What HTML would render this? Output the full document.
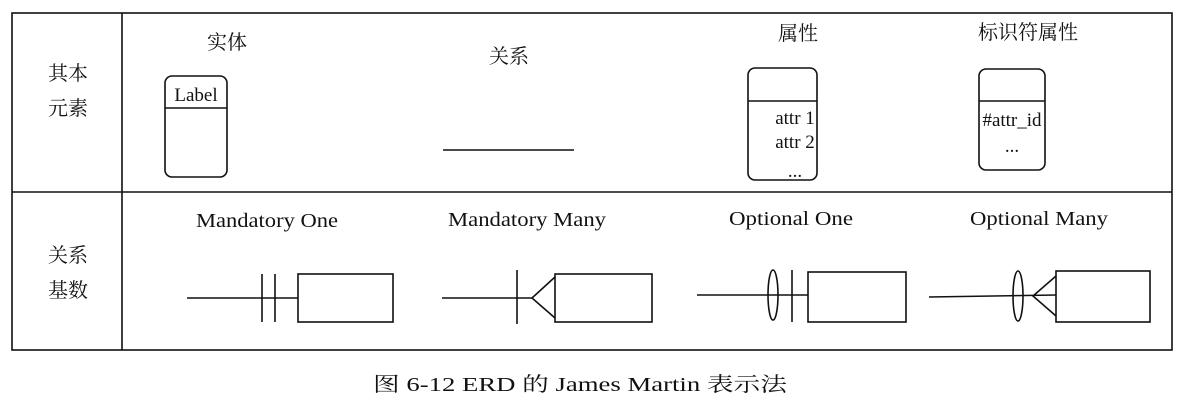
<!DOCTYPE html>
<html><head><meta charset="utf-8"><style>
body{margin:0;background:#fff;}
svg{display:block}
text{font-family:"Liberation Serif","Noto Serif CJK SC",serif;fill:#111;}
</style></head><body>
<svg width="1184" height="418" viewBox="0 0 1184 418" xmlns="http://www.w3.org/2000/svg">
<g stroke="#111" fill="none" stroke-width="1.6">
<rect x="12" y="13" width="1160" height="337"/>
<line x1="122" y1="13" x2="122" y2="350"/>
<line x1="12" y1="192" x2="1172" y2="192"/>
<rect x="165" y="76" width="62" height="101" rx="7"/>
<line x1="165" y1="108" x2="227" y2="108"/>
<line x1="443" y1="150" x2="574" y2="150"/>
<rect x="748" y="68" width="69" height="112" rx="7"/>
<line x1="748" y1="101" x2="817" y2="101"/>
<rect x="979" y="69" width="66" height="101" rx="7"/>
<line x1="979" y1="101" x2="1045" y2="101"/>
<line x1="187" y1="298" x2="298" y2="298"/>
<line x1="262" y1="274" x2="262" y2="322"/>
<line x1="275" y1="274" x2="275" y2="322"/>
<rect x="298" y="274" width="95" height="48"/>
<line x1="442" y1="298" x2="532" y2="298"/>
<line x1="517" y1="270" x2="517" y2="324"/>
<polyline points="555,277 532,298 555,318"/>
<rect x="555" y="274" width="97" height="48"/>
<line x1="697" y1="295" x2="808" y2="295"/>
<ellipse cx="773" cy="295" rx="5" ry="25"/>
<line x1="792" y1="270" x2="792" y2="322"/>
<rect x="808" y="272" width="98" height="50"/>
<line x1="929" y1="297" x2="1056" y2="295"/>
<ellipse cx="1018" cy="296" rx="5" ry="25"/>
<polyline points="1056,276 1033,296 1056,316"/>
<rect x="1056" y="271" width="94" height="51"/>
</g>
<g font-size="20" text-anchor="middle">
<text x="68" y="80">其本</text>
<text x="68" y="115">元素</text>
<text x="68" y="262">关系</text>
<text x="68" y="297">基数</text>
<text x="227" y="49">实体</text>
<text x="509" y="63">关系</text>
<text x="798" y="40">属性</text>
<text x="1028" y="39">标识符属性</text>
</g>
<g font-size="19" text-anchor="middle">
<text x="196" y="101">Label</text>
<text x="795" y="124">attr 1</text>
<text x="795" y="148">attr 2</text>
<text x="795" y="177">...</text>
<text x="1012" y="126">#attr_id</text>
<text x="1012" y="152">...</text>
</g>
<g font-size="20">
<text x="196" y="227" textLength="142" lengthAdjust="spacingAndGlyphs">Mandatory One</text>
<text x="448" y="226" textLength="158" lengthAdjust="spacingAndGlyphs">Mandatory Many</text>
<text x="729" y="225" textLength="124" lengthAdjust="spacingAndGlyphs">Optional One</text>
<text x="970" y="225" textLength="138" lengthAdjust="spacingAndGlyphs">Optional Many</text>
<text x="373" y="391" textLength="414" lengthAdjust="spacingAndGlyphs">图 6-12   ERD 的 James Martin 表示法</text>
</g>
</svg>
</body></html>
